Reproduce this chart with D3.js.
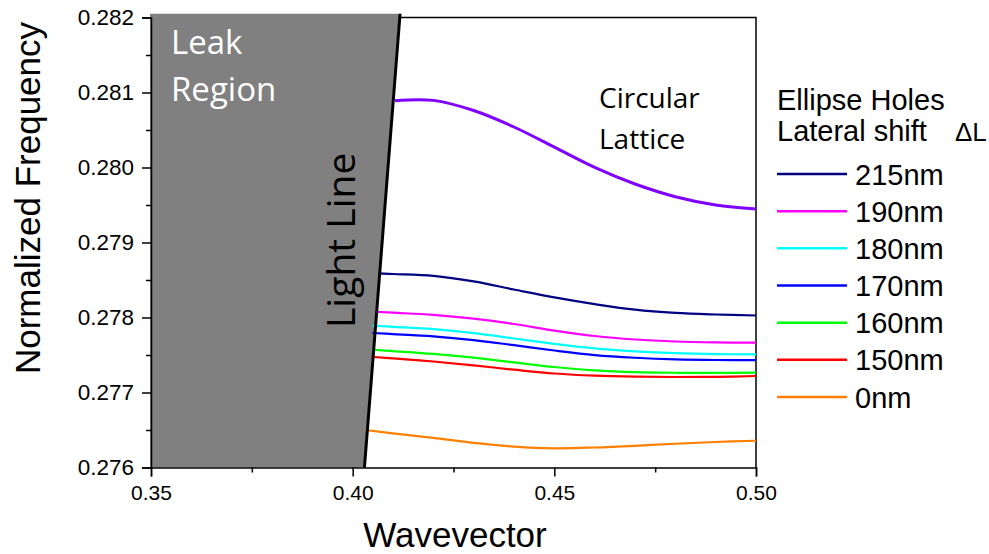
<!DOCTYPE html>
<html>
<head>
<meta charset="utf-8">
<script src="https://cdn.jsdelivr.net/npm/d3@7"></script>
<style>
  body { margin: 0; background: #fff; }
  svg { display: block; }
  .axis text { font-family: "Liberation Sans", Arial, sans-serif; fill: #000; }
  .axis path, .axis line { stroke: #000; stroke-width: 1.5; }
</style>
</head>
<body>
<script>
// wavevector grid the curves were read on
const kGrid = [0.41, 0.42, 0.43, 0.44, 0.45, 0.46, 0.47, 0.48, 0.49, 0.50];

// legend labels and colours
const shiftLabels = ['215nm', '190nm', '180nm', '170nm', '160nm', '150nm', '0nm'];
const shiftColors = ['#000080', '#ff00ff', '#00ffff', '#0000ff', '#00ff00', '#ff0000', '#ff8000'];

// where each curve leaves the light line: [k, f]
const startPoints = [
  [0.4064, 0.278589],
  [0.4055, 0.278077],
  [0.4050, 0.277891],
  [0.4049, 0.277793],
  [0.4047, 0.277571],
  [0.4046, 0.277477],
  [0.4031, 0.276500]
];

// normalized frequency on kGrid
const f215 = [0.278580, 0.278555, 0.278481, 0.278373, 0.278268, 0.278179, 0.278104, 0.278061, 0.278040, 0.278027];
const f190 = [0.278064, 0.278035, 0.277984, 0.277913, 0.277825, 0.277753, 0.277707, 0.277680, 0.277668, 0.277664];
const f180 = [0.277876, 0.277845, 0.277791, 0.277720, 0.277649, 0.277588, 0.277549, 0.277524, 0.277512, 0.277509];
const f170 = [0.277779, 0.277749, 0.277699, 0.277631, 0.277560, 0.277499, 0.277463, 0.277441, 0.277433, 0.277433];
const f160 = [0.277552, 0.277515, 0.277464, 0.277401, 0.277340, 0.277296, 0.277272, 0.277263, 0.277261, 0.277264];
const f150 = [0.277455, 0.277413, 0.277361, 0.277304, 0.277253, 0.277224, 0.277211, 0.277207, 0.277209, 0.277220];
const f0 = [0.276456, 0.276395, 0.276329, 0.276279, 0.276256, 0.276267, 0.276289, 0.276317, 0.276340, 0.276357];

// circular lattice (purple), starts past 0.41
const circStart = [0.4105, 0.280891];
const fCircular = [0.280895, 0.280760, 0.280540, 0.280271, 0.280001, 0.279780, 0.279611, 0.279501, 0.279447];

// light line slope f = c * k
const lightSlope = 0.685;

const xTicks = [0.35, 0.40, 0.45, 0.50];
const xMinor = [0.375, 0.425, 0.475];
const yTicks = [0.276, 0.277, 0.278, 0.279, 0.280, 0.281, 0.282];
const yMinor = [0.2765, 0.2775, 0.2785, 0.2795, 0.2805, 0.2815];

const W = 989, H = 554;
const plot = { left: 151, right: 756, top: 17.5, bottom: 467.5 };

const svg = d3.select('body').append('svg')
  .attr('width', W)
  .attr('height', H);

const x = d3.scaleLinear().domain([0.35, 0.50]).range([plot.left, plot.right]);
const y = d3.scaleLinear().domain([0.276, 0.282]).range([plot.bottom, plot.top]);

// frame (top + right), drawn first so the leak region covers it
svg.append('path')
  .attr('d', `M${plot.left},${plot.top}H${plot.right}V${plot.bottom}`)
  .attr('fill', 'none')
  .attr('stroke', '#000')
  .attr('stroke-width', 1.5);

// leak region (left of the light line)
const fTop = 0.28205;
const leak = [[0.35, 0.276], [0.276 / lightSlope, 0.276], [fTop / lightSlope, fTop], [0.35, fTop]];
svg.append('path')
  .attr('d', d3.line().x(d => x(d[0]) - 1).y(d => y(d[1]))(leak))
  .attr('fill', '#808080');

// curves
const shiftSeries = [f215, f190, f180, f170, f160, f150, f0];
const line = d3.line()
  .x(d => x(d[0]))
  .y(d => y(d[1]))
  .curve(d3.curveCatmullRom.alpha(0.5));

shiftSeries.forEach((vals, i) => {
  const pts = [startPoints[i]].concat(kGrid.map((k, j) => [k, vals[j]]));
  svg.append('path')
    .attr('d', line(pts))
    .attr('fill', 'none')
    .attr('stroke', shiftColors[i])
    .attr('stroke-width', 2.2);
});

const circPts = [circStart].concat(kGrid.slice(1).map((k, j) => [k, fCircular[j]]));
svg.append('path')
  .attr('d', line(circPts))
  .attr('fill', 'none')
  .attr('stroke', '#7f00ff')
  .attr('stroke-width', 3);

// light line
svg.append('line')
  .attr('x1', x(0.276 / lightSlope)).attr('y1', y(0.276))
  .attr('x2', x(fTop / lightSlope)).attr('y2', y(fTop))
  .attr('stroke', '#000')
  .attr('stroke-width', 3);

// axes
const xAxis = svg.append('g')
  .attr('class', 'axis')
  .attr('transform', `translate(0,${plot.bottom})`)
  .call(d3.axisBottom(x).tickValues(xTicks).tickSize(9).tickPadding(9).tickFormat(d3.format('.2f')));
xAxis.selectAll('text').attr('font-size', 21);

svg.append('g')
  .attr('class', 'axis')
  .attr('transform', `translate(0,${plot.bottom})`)
  .call(d3.axisBottom(x).tickValues(xMinor).tickSize(5).tickFormat(''))
  .select('.domain').remove();

const yAxis = svg.append('g')
  .attr('class', 'axis')
  .attr('transform', `translate(${plot.left},0)`)
  .call(d3.axisLeft(y).tickValues(yTicks).tickSize(9).tickPadding(8).tickFormat(d3.format('.3f')));
yAxis.selectAll('text').attr('font-size', 22.5);

svg.append('g')
  .attr('class', 'axis')
  .attr('transform', `translate(${plot.left},0)`)
  .call(d3.axisLeft(y).tickValues(yMinor).tickSize(5).tickFormat(''))
  .select('.domain').remove();

// axis titles
const arial = '"Liberation Sans", Arial, sans-serif';
svg.append('text')
  .attr('x', 455)
  .attr('y', 547)
  .attr('text-anchor', 'middle')
  .attr('font-family', arial)
  .attr('font-size', 35)
  .text('Wavevector');

svg.append('text')
  .attr('transform', 'translate(40,198) rotate(-90)')
  .attr('text-anchor', 'middle')
  .attr('font-family', arial)
  .attr('font-size', 35)
  .text('Normalized Frequency');

// annotations
const calibri = '"Open Sans", sans-serif';
svg.append('text').attr('x', 171).attr('y', 54).attr('font-family', calibri)
  .attr('font-size', 33).attr('fill', '#fff').text('Leak');
svg.append('text').attr('x', 171).attr('y', 101).attr('font-family', calibri)
  .attr('font-size', 33).attr('fill', '#fff').text('Region');

svg.append('text').attr('x', 599).attr('y', 108).attr('font-family', calibri)
  .attr('font-size', 28).text('Circular');
svg.append('text').attr('x', 599).attr('y', 149).attr('font-family', calibri)
  .attr('font-size', 28).text('Lattice');

svg.append('text')
  .attr('transform', 'translate(355,328) rotate(-90)')
  .attr('font-family', calibri)
  .attr('font-size', 39)
  .text('Light Line');

// legend
const legend = svg.append('g').attr('font-family', arial).attr('font-size', 29);
legend.append('text').attr('x', 777).attr('y', 110).text('Ellipse Holes');
legend.append('text').attr('x', 777).attr('y', 140.5).text('Lateral shift');
legend.append('text').attr('x', 955).attr('y', 140.5).attr('font-size', 26).text('\u0394L');

const rowY = d3.scalePoint().domain(shiftLabels).range([174, 397]);
shiftLabels.forEach((lab, i) => {
  const yy = rowY(lab);
  legend.append('line')
    .attr('x1', 777).attr('x2', 847)
    .attr('y1', yy).attr('y2', yy)
    .attr('stroke', shiftColors[i])
    .attr('stroke-width', 2.5);
  legend.append('text')
    .attr('x', 855).attr('y', yy + 10.5)
    .text(lab);
});
</script>
</body>
</html>
